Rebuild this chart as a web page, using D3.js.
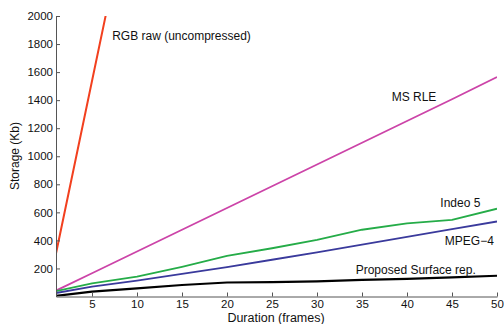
<!DOCTYPE html>
<html>
<head>
<meta charset="utf-8">
<script src="https://cdn.jsdelivr.net/npm/d3@7/dist/d3.min.js"></script>
<style>
  body { margin: 0; background: #fff; }
  text { font-family: "Liberation Sans", Arial, sans-serif; }
</style>
</head>
<body>
<script>
const w = 504;
const h = 324;
const margin = {top: 16, right: 7, bottom: 27.5, left: 56};

// frames on the x axis
const frames = [1, 5, 10, 15, 20, 25, 30, 35, 40, 45, 50];

// storage in Kb
const rgbRaw = [307, 1536, 3072, 4608, 6144, 7680, 9216, 10752, 12288, 13824, 15360];
const msRle = [42, 166, 321, 476, 631, 786, 941, 1096, 1251, 1406, 1565];
const indeo5 = [38, 94, 141, 212, 289, 344, 404, 476, 522, 546, 626];
const mpeg4 = [25, 70, 113, 162, 210, 262, 315, 370, 425, 480, 535];
const surface = [5, 35, 58, 82, 100, 103, 108, 118, 125, 137, 148];

const xTicks = [5, 10, 15, 20, 25, 30, 35, 40, 45, 50];
const yTicks = [200, 400, 600, 800, 1000, 1200, 1400, 1600, 1800, 2000];

const series = [
  {name: "RGB raw (uncompressed)", values: rgbRaw, color: "#f2401f", width: 2, label: [7.24, 1829]},
  {name: "MS RLE", values: msRle, color: "#cc44a8", width: 1.8, label: [38.3, 1397]},
  {name: "Indeo 5", values: indeo5, color: "#25ac48", width: 1.8, label: [43.7, 637]},
  {name: "MPEG\u22124", values: mpeg4, color: "#3a3a9c", width: 1.8, label: [44.2, 367]},
  {name: "Proposed Surface rep.", values: surface, color: "#000000", width: 2.2, label: [34.3, 160]}
];

const x = d3.scaleLinear().domain([1, 50]).range([margin.left, w - margin.right]);
const y = d3.scaleLinear().domain([0, 2000]).range([h - margin.bottom, margin.top]);

const svg = d3.select("body").append("svg")
  .attr("width", w)
  .attr("height", h);

svg.append("clipPath").attr("id", "plot")
  .append("rect")
  .attr("x", margin.left)
  .attr("y", margin.top)
  .attr("width", w - margin.left - margin.right)
  .attr("height", h - margin.top - margin.bottom);

const line = d3.line()
  .x((d, i) => x(frames[i]))
  .y(d => y(d));

svg.append("g").attr("clip-path", "url(#plot)")
  .selectAll("path")
  .data(series)
  .enter()
  .append("path")
  .attr("d", d => line(d.values))
  .attr("fill", "none")
  .attr("stroke", d => d.color)
  .attr("stroke-width", d => d.width)
  .attr("stroke-linejoin", "round");

// axes, matlab style: ticks point inward
const xAxis = d3.axisBottom(x).tickValues(xTicks).tickFormat(d3.format("d"))
  .tickSizeInner(-4).tickSizeOuter(0).tickPadding(3.5);
svg.append("g")
  .attr("transform", "translate(0," + (h - margin.bottom) + ")")
  .call(xAxis)
  .call(g => g.selectAll("text").attr("font-size", 11.5).attr("fill", "#111"));

const yAxis = d3.axisLeft(y).tickValues(yTicks).tickFormat(d3.format("d"))
  .tickSizeInner(-4).tickSizeOuter(0).tickPadding(3);
svg.append("g")
  .attr("transform", "translate(" + margin.left + ",0)")
  .call(yAxis)
  .call(g => g.selectAll("text").attr("font-size", 11.5).attr("fill", "#111"));

svg.selectAll(".domain, .tick line").attr("stroke", "#555");

// line labels
svg.append("g")
  .selectAll("text")
  .data(series)
  .enter()
  .append("text")
  .attr("x", d => x(d.label[0]))
  .attr("y", d => y(d.label[1]))
  .attr("font-size", 12)
  .attr("fill", "#111")
  .text(d => d.name);

// axis titles
svg.append("text")
  .attr("x", 276)
  .attr("y", 322)
  .attr("text-anchor", "middle")
  .attr("font-size", 12.5)
  .attr("fill", "#111")
  .text("Duration (frames)");

svg.append("text")
  .attr("transform", "translate(19,156) rotate(-90)")
  .attr("text-anchor", "middle")
  .attr("font-size", 12)
  .attr("fill", "#111")
  .text("Storage (Kb)");
</script>
</body>
</html>
